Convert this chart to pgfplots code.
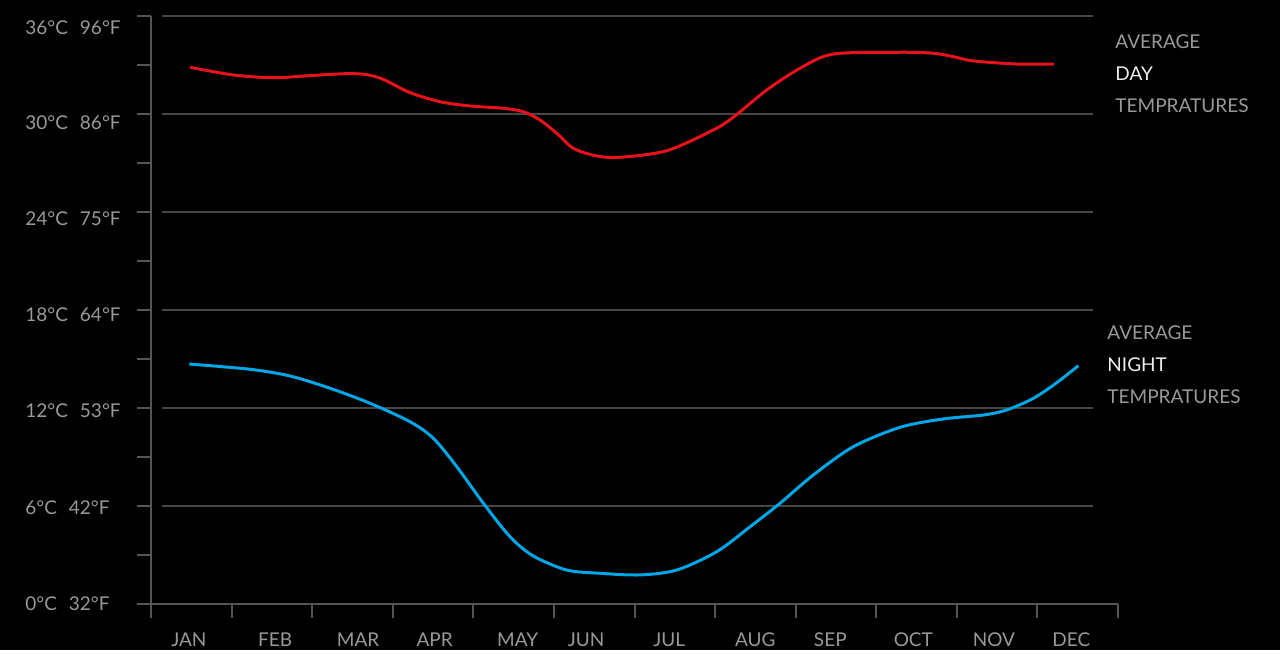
\documentclass[border=0pt]{standalone}
\usepackage{pgfplots}
\pgfplotsset{compat=1.18}
\usepackage{fontspec}
\setmainfont{Lato}
\definecolor{axisgray}{HTML}{555555}
\definecolor{gridgray}{HTML}{474747}
\definecolor{txtgray}{HTML}{999999}
\definecolor{txtwhite}{HTML}{EEEEEE}
\definecolor{dayred}{HTML}{E8121C}
\definecolor{nightblue}{HTML}{00A6E6}
\pgfplotstableread{
x y
0.484 32.86
1.021 32.39
1.518 32.22
1.973 32.35
2.429 32.47
2.677 32.41
2.883 32.12
3.214 31.31
3.587 30.75
3.959 30.49
4.372 30.35
4.620 30.14
4.827 29.63
5.035 28.82
5.241 27.90
5.531 27.43
5.820 27.35
6.400 27.75
6.978 29.02
7.226 29.80
7.641 31.47
8.054 32.80
8.467 33.67
9.295 33.78
9.708 33.72
9.956 33.51
10.204 33.25
10.743 33.06
11.206 33.06
}\daytable
\pgfplotstableread{
x y
0.475 14.69
1.229 14.37
1.725 13.96
2.221 13.21
2.718 12.29
3.214 11.16
3.503 10.15
3.794 8.41
4.124 6.17
4.455 4.12
4.744 2.94
5.159 2.08
5.572 1.88
6.068 1.78
6.524 2.08
7.020 3.20
7.434 4.73
7.807 6.17
8.219 7.90
8.715 9.63
9.297 10.82
9.832 11.33
10.329 11.57
10.619 11.88
10.949 12.59
11.240 13.55
11.508 14.59
}\nighttable
\begin{document}
\begin{tikzpicture}
\fill[black] (0,0) rectangle (640pt,325pt);
\begin{axis}[
  at={(75.5pt,23pt)}, anchor=south west,
  width=483.5pt, height=294pt, scale only axis,
  xmin=0, xmax=12, ymin=0, ymax=36,
  axis x line=bottom, axis y line=left,
  axis line style={-, color=axisgray, line width=1pt},
  xtick={0,1,...,12}, xticklabels={},
  ytick={0,6,...,36}, yticklabels={},
  minor ytick={3,9,...,33},
  tick align=outside,
  major tick length=7pt, minor tick length=7pt,
  every tick/.style={color=axisgray, line width=1pt},
  clip=false,
  font=\fontsize{9.5pt}{11pt}\selectfont,
]
% grid lines
\foreach \g in {6,12,18,24,30,36}{
  \edef\tmp{\noexpand\draw[gridgray, line width=0.6pt] (axis cs:0.137,\g) -- (axis cs:11.69,\g);}
  \tmp
}
\addplot[dayred, line width=1.5pt, smooth, tension=0.5, no markers] table[x=x,y=y] {\daytable};
\addplot[nightblue, line width=1.5pt, smooth, tension=0.5, no markers] table[x=x,y=y] {\nighttable};
% y labels
\node[anchor=west, inner sep=0pt, txtgray] at (axis cs:-1.564,35.30) {36°C\hspace{6pt}96°F};
\node[anchor=west, inner sep=0pt, txtgray] at (axis cs:-1.564,29.45) {30°C\hspace{6pt}86°F};
\node[anchor=west, inner sep=0pt, txtgray] at (axis cs:-1.564,23.57) {24°C\hspace{6pt}75°F};
\node[anchor=west, inner sep=0pt, txtgray] at (axis cs:-1.564,17.69) {18°C\hspace{6pt}64°F};
\node[anchor=west, inner sep=0pt, txtgray] at (axis cs:-1.564,11.82) {12°C\hspace{6pt}53°F};
\node[anchor=west, inner sep=0pt, txtgray] at (axis cs:-1.564,5.91) {6°C\hspace{6pt}42°F};
\node[anchor=west, inner sep=0pt, txtgray] at (axis cs:-1.564,0.04) {0°C\hspace{6pt}32°F};
% month labels
\foreach \m/\xx in {JAN/0.47,FEB/1.54,MAR/2.57,APR/3.52,MAY/4.55,JUN/5.40,JUL/6.43,AUG/7.50,SEP/8.43,OCT/9.46,NOV/10.46,DEC/11.42}{
  \edef\tmp{\noexpand\node[txtgray] at (axis cs:\xx,-2.2) {\m};}
  \tmp
}
% right texts
\node[anchor=west, inner sep=0pt, txtgray] at (axis cs:11.963,34.41) {AVERAGE};
\node[anchor=west, inner sep=0pt, txtwhite] at (axis cs:11.963,32.45) {DAY};
\node[anchor=west, inner sep=0pt, txtgray] at (axis cs:11.963,30.49) {TEMPRATURES};
\node[anchor=west, inner sep=0pt, txtgray] at (axis cs:11.864,16.59) {AVERAGE};
\node[anchor=west, inner sep=0pt, txtwhite] at (axis cs:11.864,14.63) {NIGHT};
\node[anchor=west, inner sep=0pt, txtgray] at (axis cs:11.864,12.67) {TEMPRATURES};
\end{axis}
\end{tikzpicture}
\end{document}
